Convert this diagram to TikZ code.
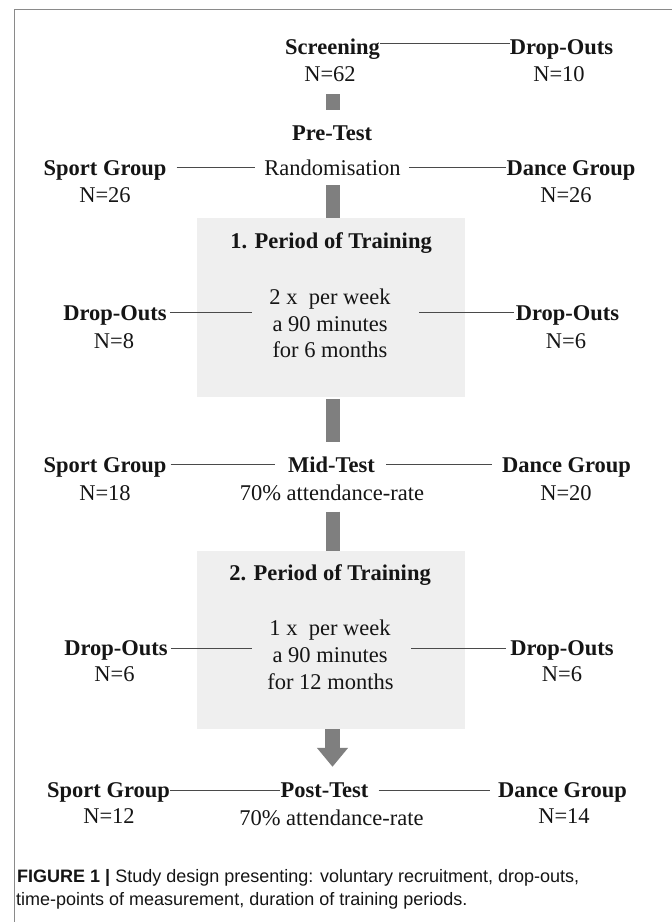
\documentclass[tikz,border=0pt]{standalone}
\usepackage{fontspec}
\setmainfont{Liberation Serif}
\newfontfamily\capfont{Liberation Sans}
\usetikzlibrary{arrows.meta}
\definecolor{txt}{HTML}{151515}
\definecolor{barc}{HTML}{7F7F7F}
\definecolor{boxc}{HTML}{EFEFEF}
\definecolor{framec}{HTML}{8A8A8A}
\definecolor{linec}{HTML}{4A4A4A}
\newcommand{\fsz}{\fontsize{22.5}{27}\selectfont}
\tikzset{
  txtbase/.style={anchor=base, inner sep=0pt, text height=15pt, text depth=0pt, text=txt},
  headtext/.style={txtbase, font=\fsz\bfseries},
  plaintext/.style={txtbase, font=\fsz},
  link/.style={draw=linec, line width=0.9pt},
  flowbar/.style={draw=barc, line width=14pt},
  period/.style={fill=boxc, draw=none, inner sep=0pt, minimum width=268pt},
  captext/.style={anchor=base west, inner sep=0pt, text=txt, font=\capfont\fontsize{18}{23}\selectfont},
}
\begin{document}
\begin{tikzpicture}[x=1pt, y=-1pt]
\useasboundingbox (0,0) rectangle (672,922);
\fill[white] (0,0) rectangle (672,922);
% frame
\draw[framec, line width=1.5pt] (14.5,922) -- (14.5,9.5) -- (672,9.5);

% training period boxes
\node[period, minimum height=179pt] (box1) at (331,307.5) {};
\node[period, minimum height=178pt] (box2) at (331,640) {};

% screening
\node[headtext] (scr) at (332.5,54) {Screening};
\node[plaintext] (scrN) at (330,81) {N=62};
\node[headtext] (do0) at (561.5,54) {Drop-Outs};
\node[plaintext] (do0N) at (559,81) {N=10};
\node[headtext] (pre) at (332,140) {Pre-Test};

% randomisation
\node[headtext] (sg1) at (105,175) {Sport Group};
\node[plaintext] (sg1N) at (105,202) {N=26};
\node[plaintext] (rand) at (332.5,175) {Randomisation};
\node[headtext] (dg1) at (571,175) {Dance Group};
\node[plaintext] (dg1N) at (566,202) {N=26};

% first period of training
\node[headtext] (t1) at (331,248) {1. Period of Training};
\node[plaintext] (b1a) at (330,304.5) {2 x\ \ per week};
\node[plaintext] (b1b) at (330,331.5) {a 90 minutes};
\node[plaintext] (b1c) at (330,357.5) {for 6 months};
\node[headtext] (dol1) at (115,320) {Drop-Outs};
\node[plaintext] (dol1N) at (114,348) {N=8};
\node[headtext] (dor1) at (567.5,320) {Drop-Outs};
\node[plaintext] (dor1N) at (566,348) {N=6};
\coordinate (b1l) at (252,0);
\coordinate (b1r) at (419,0);

% mid-test
\node[headtext] (sg2) at (105,472) {Sport Group};
\node[plaintext] (sg2N) at (105,500) {N=18};
\node[headtext] (mid) at (331.5,472) {Mid-Test};
\node[plaintext] (att1) at (332,500) {70\% attendance-rate};
\node[headtext] (dg2) at (566.5,472) {Dance Group};
\node[plaintext] (dg2N) at (566,500) {N=20};

% second period of training
\node[headtext] (t2) at (330,580.5) {2. Period of Training};
\node[plaintext] (b2a) at (330,635.5) {1 x\ \ per week};
\node[plaintext] (b2b) at (330,662.5) {a 90 minutes};
\node[plaintext] (b2c) at (330.5,689.5) {for 12 months};
\node[headtext] (dol2) at (116,655.5) {Drop-Outs};
\node[plaintext] (dol2N) at (114.5,681) {N=6};
\node[headtext] (dor2) at (562,655.5) {Drop-Outs};
\node[plaintext] (dor2N) at (562,681) {N=6};
\coordinate (b2l) at (252,0);
\coordinate (b2r) at (411,0);

% post-test
\node[headtext] (sg3) at (108.5,797.5) {Sport Group};
\node[plaintext] (sg3N) at (109,823.5) {N=12};
\node[headtext] (post) at (324.5,797.5) {Post-Test};
\node[plaintext] (att2) at (331.5,825) {70\% attendance-rate};
\node[headtext] (dg3) at (562.5,797.5) {Dance Group};
\node[plaintext] (dg3N) at (564,823.5) {N=14};

% thin connectors
\draw[link] ([yshift=3pt]scr.east) -- ([yshift=3pt]do0.west);
\draw[link, shorten <=10pt, shorten >=9pt] (sg1.east) -- (rand.west);
\draw[link, shorten <=8pt] (rand.east) -- (dg1.west);
\draw[link, shorten <=3pt] (dol1.east) -- (dol1.east -| b1l);
\draw[link, shorten >=2pt] (dor1.west -| b1r) -- (dor1.west);
\draw[link, shorten <=4pt, shorten >=13pt] (sg2.east) -- (mid.west);
\draw[link, shorten <=11pt, shorten >=10pt] (mid.east) -- (dg2.west);
\draw[link, shorten <=3pt] (dol2.east) -- (dol2.east -| b2l);
\draw[link, shorten >=4pt] (dor2.west -| b2r) -- (dor2.west);
\draw[link] (sg3.east) -- (post.west);
\draw[link, shorten <=10pt, shorten >=8pt] (post.east) -- (dg3.west);

% thick flow bars
\draw[flowbar, shorten <=13pt, shorten >=15pt] (scrN.south -| scr.south) -- (pre.north -| scr.south);
\draw[flowbar, shorten <=10pt] (rand.south -| scr.south) -- (box1.north -| scr.south);
\draw[flowbar, shorten <=2pt, shorten >=15pt] (box1.south -| scr.south) -- (mid.north -| scr.south);
\draw[flowbar, shorten <=11.5pt] (att1.south -| scr.south) -- (box2.north -| scr.south);
\draw[draw=barc, line width=15pt, -{Triangle[width=30pt, length=19pt, fill=barc]}, shorten >=15.5pt]
  (box2.south -| scr.south) -- (post.north -| scr.south);

% caption
\node[captext] (cap1) at (17,882) {\textbf{FIGURE 1 |} Study design presenting: voluntary recruitment, drop-outs,};
\node[captext] (cap2) at (16,905) {time-points of measurement, duration of training periods.};
\end{tikzpicture}
\end{document}
